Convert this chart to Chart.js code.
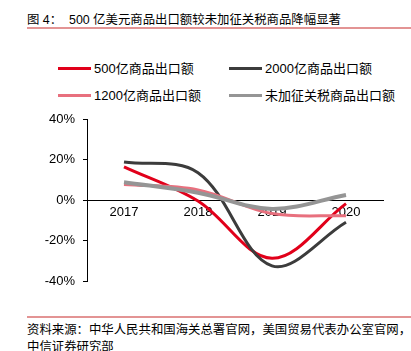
<!DOCTYPE html>
<html>
<head>
<meta charset="utf-8">
<script src="https://cdn.jsdelivr.net/npm/chart.js@4/dist/chart.umd.min.js"></script>
<style>
  html, body { margin: 0; padding: 0; background: #fff; }
  body { width: 411px; height: 351px; position: relative; overflow: hidden;
         font-family: "Liberation Sans", Arial, "Noto Sans CJK SC", sans-serif; color: #000; }
  .title { position: absolute; left: 27px; top: 10px; font-size: 12.4px; white-space: nowrap; }
  .rule { position: absolute; left: 27px; width: 384px; height: 2px; background: #e39494; }
  .legend { position: absolute; font-size: 13px; white-space: nowrap; }
  .legend span.sw { display: inline-block; width: 33px; height: 3px; vertical-align: middle;
                    margin-right: 3px; position: relative; top: -1px; }
  .src { position: absolute; left: 27px; top: 322px; font-size: 12.4px; line-height: 17px; white-space: nowrap; }
  #wrap { position: absolute; left: 0; top: 110px; width: 411px; height: 180px; }
</style>
</head>
<body>
<div class="title">图 4：&nbsp;&nbsp;500 亿美元商品出口额较未加征关税商品降幅显著</div>
<div class="rule" style="top:27px"></div>
<div id="legend"></div>
<div id="wrap"><canvas id="chart"></canvas></div>
<div class="rule" style="top:316px"></div>
<div class="src">资料来源：中华人民共和国海关总署官网，美国贸易代表办公室官网，<br>中信证券研究部</div>
<script>
// 数据（从图中读取，单位 %）
var years = ['2017', '2018', '2019', '2020'];
var s500 = [16.4, -0.5, -28.8, -1.8];
var s2000 = [18.8, 13.5, -32.5, -11];
var s1200 = [7.7, 5, -6.7, -7.8];
var sNoTariff = [8.8, 3.6, -4.4, 2.5];
var yTicks = [-40, -20, 0, 20, 40];

var SERIES = [
  { label: '500亿商品出口额', data: s500, color: '#e1001a', width: 3 },
  { label: '2000亿商品出口额', data: s2000, color: '#3c3c3c', width: 3 },
  { label: '1200亿商品出口额', data: s1200, color: '#e8707e', width: 3 },
  { label: '未加征关税商品出口额', data: sNoTariff, color: '#959595', width: 4 }
];

// ── 图例（两列） ──
var legendPos = [[58, 58], [229, 58], [58, 85], [229, 85]];
var legendBox = document.getElementById('legend');
SERIES.forEach(function (s, i) {
  var d = document.createElement('div');
  d.className = 'legend';
  d.style.left = legendPos[i][0] + 'px';
  d.style.top = legendPos[i][1] + 'px';
  d.innerHTML = '<span class="sw" style="background:' + s.color + '"></span>' + s.label;
  legendBox.appendChild(d);
});

function noPad(scale) {
  scale.paddingTop = 0;
  scale.paddingBottom = 0;
  scale.paddingLeft = 0;
  scale.paddingRight = 0;
}

// ── 图表 ──
new Chart(document.getElementById('chart'), {
  type: 'line',
  data: {
    labels: years,
    datasets: SERIES.slice().reverse().map(function (s) {
      return {
        label: s.label,
        data: s.data,
        borderColor: s.color,
        borderWidth: s.width,
        pointRadius: 0,
        tension: 0.35,
        fill: false
      };
    })
  },
  options: {
    responsive: true,
    maintainAspectRatio: false,
    animation: false,
    layout: { padding: { top: 9, bottom: 9, right: 28, left: 0 } },
    plugins: { legend: { display: false }, tooltip: { enabled: false } },
    scales: {
      x: {
        position: { y: 0 },
        offset: true,
        afterFit: noPad,
        grid: { display: false, drawTicks: false },
        border: { display: true, color: '#000', width: 1 },
        ticks: { color: '#000', padding: 5, font: { family: 'Liberation Sans', size: 13 } }
      },
      y: {
        min: -40,
        max: 40,
        afterBuildTicks: function (scale) {
          scale.ticks = yTicks.map(function (v) { return { value: v }; });
        },
        afterFit: function (scale) { scale.width = 87; noPad(scale); },
        grid: { drawOnChartArea: false, drawTicks: true, tickLength: 4, color: '#000' },
        border: { display: true, color: '#000', width: 1 },
        ticks: {
          color: '#000',
          padding: 8,
          font: { family: 'Liberation Sans', size: 13 },
          callback: function (v) { return v + '%'; }
        }
      }
    }
  }
});
</script>
</body>
</html>
